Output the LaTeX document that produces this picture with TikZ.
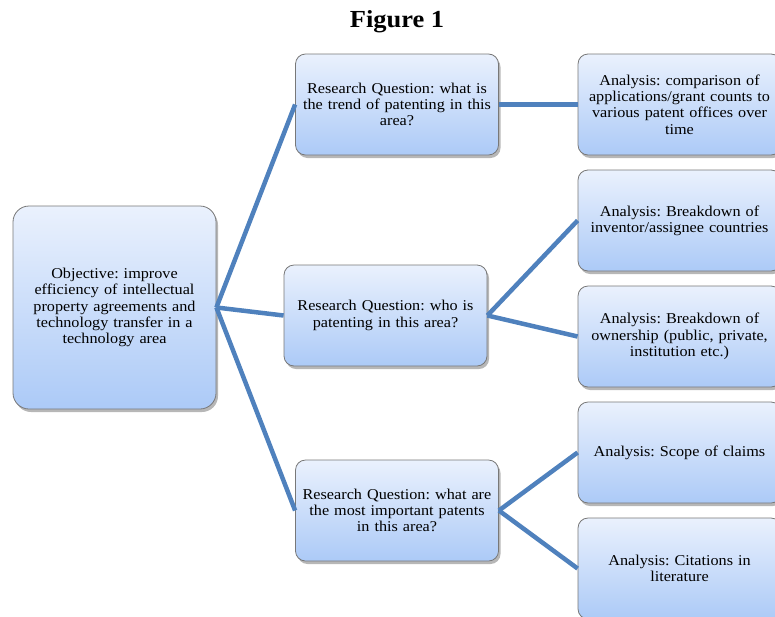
\documentclass[tikz,border=0pt]{standalone}
\usepackage{fontspec}
\setmainfont{Liberation Serif}[FakeStretch=1.08]
\usetikzlibrary{shadows}
\definecolor{linkblue}{RGB}{79,129,189}
\definecolor{boxtop}{RGB}{234,241,253}
\definecolor{boxbot}{RGB}{172,202,247}
\definecolor{boxedge}{RGB}{120,120,120}
\frenchspacing
\begin{document}
\begin{tikzpicture}[x=1pt,y=-1pt,
  card/.style={draw=boxedge, line width=0.8pt, rounded corners=10pt,
    top color=boxtop, bottom color=boxbot,
    text width=197pt, inner sep=3pt, minimum height=101pt, align=center,
    font=\fontsize{15}{16.3}\selectfont,
    drop shadow={shadow xshift=2pt, shadow yshift=-3pt, opacity=0.4, fill=black!70}},
  bigcard/.style={card, rounded corners=16pt, minimum height=203pt},
  link/.style={draw=linkblue, line width=4.5pt}]
\clip (0,0) rectangle (775,616);

% title
\node (title) at (397,22) {\fontsize{24.5}{26}\selectfont\bfseries Figure 1};

% objective
\node[bigcard] (obj) at (114.5,307.5) {Objective: improve\\efficiency of intellectual\\property agreements and\\technology transfer in a\\technology area};

% research questions
\node[card] (rq1) at (397,104.5) {Research Question: what is\\the trend of patenting in this\\area?};
\node[card] (rq2) at (385.5,315.5) {Research Question: who is\\patenting in this area?};
\node[card] (rq3) at (397,510.5) {Research Question: what are\\the most important patents\\in this area?};

% analyses
\node[card] (a1) at (679.5,104.5) {Analysis: comparison of\\applications/grant counts to\\various patent offices over\\time};
\node[card] (a2) at (679.5,220.5) {Analysis: Breakdown of\\inventor/assignee countries};
\node[card] (a3) at (679.5,336.5) {Analysis: Breakdown of\\ownership (public, private,\\institution etc.)};
\node[card] (a4) at (679.5,452.5) {Analysis: Scope of claims};
\node[card] (a5) at (679.5,568.5) {Analysis: Citations in\\literature};

% connectors
\draw[link] (obj.east) -- (rq1.west);
\draw[link] (obj.east) -- (rq2.west);
\draw[link] (obj.east) -- (rq3.west);
\draw[link] (rq1.east) -- (a1.west);
\draw[link] (rq2.east) -- (a2.west);
\draw[link] (rq2.east) -- (a3.west);
\draw[link] (rq3.east) -- (a4.west);
\draw[link] (rq3.east) -- (a5.west);
\end{tikzpicture}
\end{document}
